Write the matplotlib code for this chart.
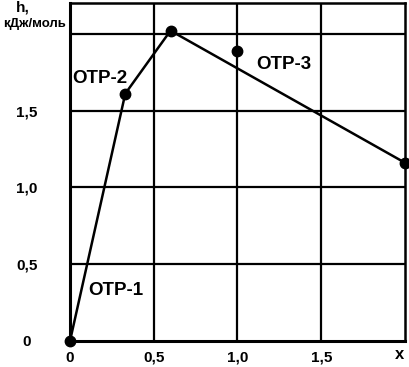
import matplotlib.pyplot as plt

# Data
x_line = [0.0, 0.33, 0.60, 2.0]
h_line = [0.0, 1.61, 2.02, 1.16]
x_single = [1.0]
h_single = [1.89]

xticks = [0.0, 0.5, 1.0, 1.5]
xtick_labels = ['0', '0,5', '1,0', '1,5']
yticks = [0.0, 0.5, 1.0, 1.5]
ytick_labels = ['0', '0,5', '1,0', '1,5']

region_labels = ['ОТР-1', 'ОТР-2', 'ОТР-3']
region_pos = [(0.107, 0.33), (0.012, 1.71), (1.113, 1.80)]

plt.rcParams['font.family'] = ['Liberation Sans', 'DejaVu Sans']
plt.rcParams['font.weight'] = 'bold'

fig = plt.figure(figsize=(4.10, 3.67), dpi=100)
ax = fig.add_axes([70/410, 26/367, 335/410, 338/367])

ax.plot(x_line, h_line, color='black', lw=1.8, marker='o', ms=7.5,
        clip_on=False, zorder=3)
ax.plot(x_single, h_single, color='black', ls='none', marker='o', ms=7.5,
        zorder=3)

ax.set_xlim(0, 2.0)
ax.set_ylim(0, 2.2)

# grid lines
for gx in [0.5, 1.0, 1.5]:
    ax.axvline(gx, color='black', lw=1.6, zorder=1)
for gy in [0.5, 1.0, 1.5, 2.0]:
    ax.axhline(gy, color='black', lw=1.6, zorder=1)

for s in ['left', 'bottom']:
    ax.spines[s].set_linewidth(2.2)
for s in ['top', 'right']:
    ax.spines[s].set_linewidth(1.8)

ax.set_xticks(xticks)
ax.set_xticklabels(xtick_labels, fontsize=11, fontweight='bold')
ax.set_yticks(yticks)
ax.set_yticklabels(ytick_labels, fontsize=11, fontweight='bold', ha='center')
ax.tick_params(axis='both', length=0)
ax.tick_params(axis='x', pad=7)
ax.tick_params(axis='y', pad=31)

for lab, (tx, ty) in zip(region_labels, region_pos):
    ax.text(tx, ty, lab, fontsize=13.5, fontweight='bold', ha='left', va='center',
            bbox=dict(facecolor='white', edgecolor='none', pad=1), zorder=2)

ax.text(1.97, -0.09, 'x', fontsize=12, fontweight='bold', ha='center', va='center')
fig.text(23/410, 1 - 8/367, 'h,', fontsize=11, fontweight='bold', ha='center', va='center')
fig.text(34/410, 1 - 24/367, 'кДж/моль', fontsize=9.5, fontweight='bold', ha='center', va='center')

fig.savefig('out.png', dpi=100)
